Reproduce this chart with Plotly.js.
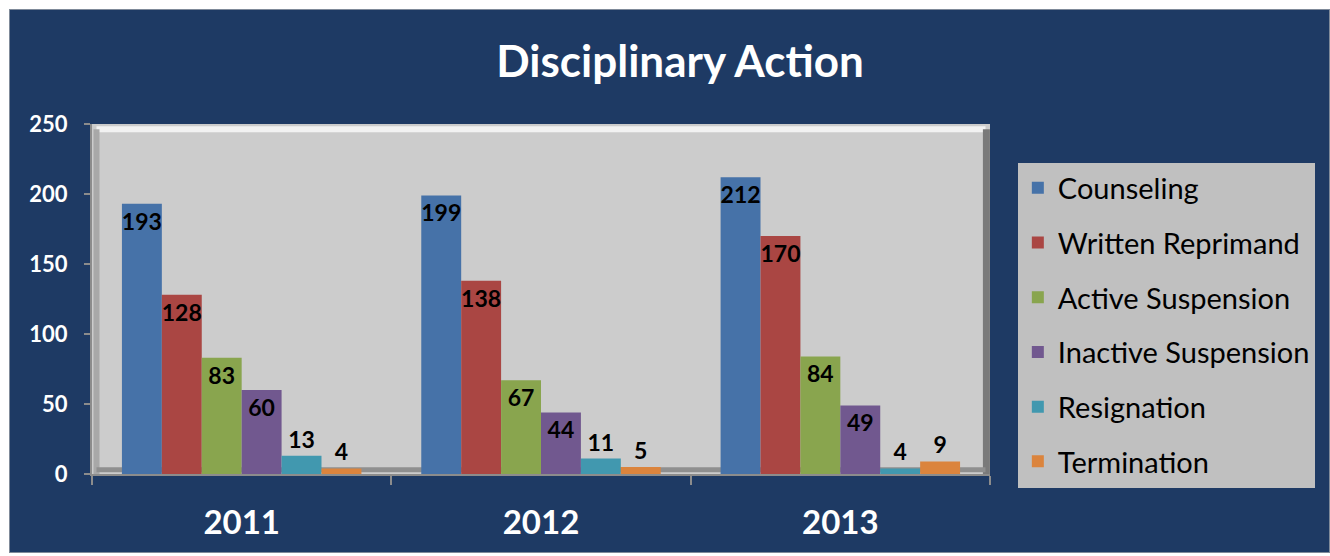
<!DOCTYPE html>
<html><head><meta charset="utf-8">
<script src="https://cdn.plot.ly/plotly-3.0.1.min.js"></script>
<style>
html,body{margin:0;padding:0;background:#fff;}
#chart{position:absolute;left:9px;top:9px;width:1321px;height:544px;box-sizing:border-box;border:1px solid #7f8a99;}
</style>
</head><body>
<div id="chart"></div>
<script>
const years = ['2011', '2012', '2013'];
const seriesNames = ['Counseling', 'Written Reprimand', 'Active Suspension', 'Inactive Suspension', 'Resignation', 'Termination'];
const counseling = [193, 199, 212];
const writtenReprimand = [128, 138, 170];
const activeSuspension = [83, 67, 84];
const inactiveSuspension = [60, 44, 49];
const resignation = [13, 11, 4];
const termination = [4, 5, 9];
const colors = ['#4672A8', '#AA4643', '#89A54E', '#71588F', '#4198AF', '#DB843D'];

const allValues = [counseling, writtenReprimand, activeSuspension, inactiveSuspension, resignation, termination];

const traces = allValues.map((vals, i) => ({
  type: 'bar',
  name: seriesNames[i],
  x: years,
  y: vals,
  text: vals.map(String),
  textposition: vals.map(v => v >= 30 ? 'inside' : 'outside'),
  insidetextanchor: 'end',
  textangle: 0,
  constraintext: 'none',
  cliponaxis: false,
  textfont: {family: 'Lato, "Open Sans", sans-serif', size: 23, color: '#000', weight: 'bold'},
  marker: {color: colors[i], line: {width: 0}},
  legendgroup: 'g' + i,
  hoverinfo: 'skip'
}));

const layout = {
  width: 1319, height: 542,
  paper_bgcolor: '#1E3A64',
  plot_bgcolor: '#CCCCCC',
  margin: {l: 82, r: 339, t: 114, b: 78, pad: 0},
  barmode: 'group',
  bargap: 0.2,
  bargroupgap: 0,
  title: {
    text: '<b>Disciplinary Action</b>',
    font: {family: 'Lato, "Open Sans", sans-serif', size: 44, color: '#FFFFFF'},
    x: 0.508, xanchor: 'center', y: 0.905, yanchor: 'middle'
  },
  xaxis: {
    type: 'category',
    tickson: 'boundaries',
    ticks: 'outside', ticklen: 9, tickcolor: '#8C8C8C', tickwidth: 2,
    showline: true, linecolor: '#8C8C8C', linewidth: 2,
    ticklabelstandoff: 18,
    tickfont: {family: 'Lato, "Open Sans", sans-serif', size: 33, color: '#FFFFFF', weight: 'bold'},
    showgrid: false, zeroline: false
  },
  yaxis: {
    range: [0, 250],
    tickvals: [0, 50, 100, 150, 200, 250],
    ticks: 'outside', ticklen: 6, tickcolor: '#8C8C8C', tickwidth: 2,
    showline: true, linecolor: '#8C8C8C', linewidth: 2,
    ticklabelstandoff: 12,
    tickfont: {family: 'Lato, "Open Sans", sans-serif', size: 22, color: '#FFFFFF', weight: 'bold'},
    showgrid: false, zeroline: false
  },
  showlegend: true,
  legend: {
    x: 1.031, xanchor: 'left',
    y: 0.89, yanchor: 'top',
    bgcolor: '#C0C0C0',
    borderwidth: 0,
    font: {family: 'Lato, "Open Sans", sans-serif', size: 29, color: '#000'},
    tracegroupgap: 14,
    itemclick: false
  },
  shapes: [
    {type: 'line', xref: 'paper', yref: 'paper', x0: 0.005, x1: 0.995, y0: 0.985, y1: 0.985, line: {color: '#F2F2F2', width: 6}, layer: 'below'},
    {type: 'line', xref: 'paper', yref: 'paper', x0: 0.996, x1: 0.996, y0: 0.0, y1: 0.985, line: {color: '#7A7A7A', width: 7}, layer: 'below'},
    {type: 'line', xref: 'paper', yref: 'paper', x0: 0.005, x1: 0.005, y0: 0.0, y1: 0.985, line: {color: '#A8A8A8', width: 6}, layer: 'below'},
    {type: 'line', xref: 'paper', yref: 'paper', x0: 0.005, x1: 0.995, y0: 0.012, y1: 0.012, line: {color: '#8F8F8F', width: 5}, layer: 'below'}
  ]
};

Plotly.newPlot('chart', traces, layout, {displayModeBar: false, staticPlot: true});
</script>
</body></html>
